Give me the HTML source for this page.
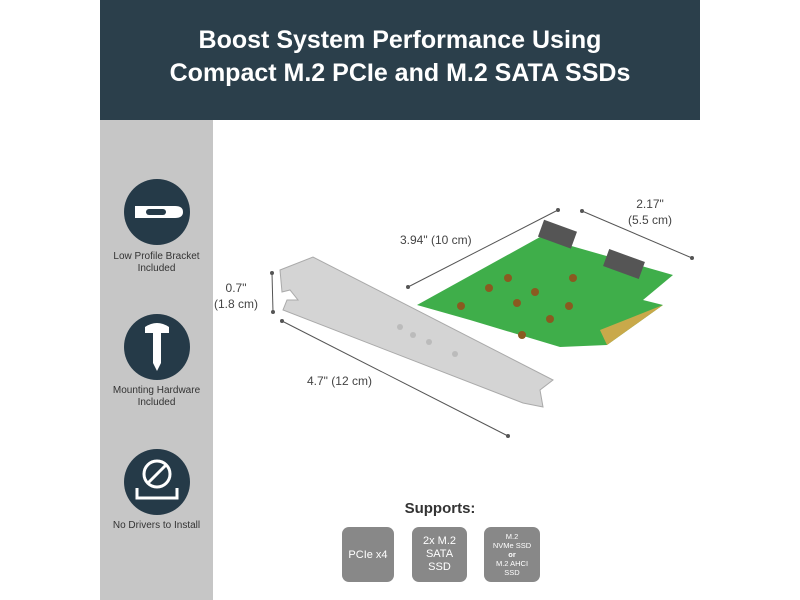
<!DOCTYPE html>
<html><head><style>
body{margin:0;width:800px;height:600px;background:#fff;position:relative;overflow:hidden;font-family:"Liberation Sans",sans-serif}
.hdr{position:absolute;left:100px;top:0;width:600px;height:120px;background:#2b3f4b;color:#fff;text-align:center;font-weight:bold;font-size:25px;line-height:33px;padding-top:24px;box-sizing:border-box}
.side{position:absolute;left:100px;top:120px;width:113px;height:480px;background:#c6c6c6}
.circ{position:absolute;left:124px;width:66px;height:66px;border-radius:50%;background:#253a48}
.lbl{position:absolute;left:100px;width:113px;text-align:center;font-size:10px;color:#333;line-height:12px}
.box{position:absolute;top:527px;height:55px;background:#888;border-radius:7px;color:#fff;text-align:center;display:flex;align-items:center;justify-content:center}
.dim{position:absolute;font-size:12px;color:#444;text-align:center;line-height:16px}
</style></head><body>
<div class="hdr">Boost System Performance Using<br>Compact M.2 PCIe and M.2 SATA SSDs</div>
<div class="side"></div>
<div class="circ" style="top:179px"></div>
<div class="circ" style="top:314px"></div>
<div class="circ" style="top:449px"></div>
<svg style="position:absolute;left:0;top:0" width="800" height="600">
<path d="M135 206 h40 q8 0 8 6 q0 6 -8 6 h-40 z" fill="#fff"/>
<rect x="146" y="209" width="20" height="6" rx="3" fill="#253a48"/>
<path d="M145 327 q12 -8 24 0 v6 h-8 v30 l-4 8 l-4 -8 v-30 h-8 z" fill="#fff"/>
<circle cx="157" cy="474" r="13" fill="none" stroke="#fff" stroke-width="3"/>
<line x1="148" y1="483" x2="166" y2="465" stroke="#fff" stroke-width="3"/>
<path d="M137 488 v10 h40 v-10" fill="none" stroke="#fff" stroke-width="3"/>
<polygon points="417,305 540,237 673,275 643,300 663,305 607,345 560,347 470,320" fill="#3fae4a"/>
<polygon points="600,330 663,305 607,345" fill="#c9a94a"/>
<rect x="540" y="225" width="35" height="18" fill="#555" transform="rotate(20 557 234)"/>
<rect x="605" y="255" width="38" height="18" fill="#555" transform="rotate(20 624 264)"/>
<g fill="#8a5a20"><circle cx="508" cy="278" r="4"/><circle cx="489" cy="288" r="4"/><circle cx="461" cy="306" r="4"/><circle cx="535" cy="292" r="4"/><circle cx="517" cy="303" r="4"/><circle cx="569" cy="306" r="4"/><circle cx="550" cy="319" r="4"/><circle cx="522" cy="335" r="4"/><circle cx="573" cy="278" r="4"/></g>
<polygon points="280,270 313,257 553,380 540,390 543,407 523,403 283,310 287,300 298,300 290,290 282,292" fill="#d4d4d4" stroke="#aaa"/>
<g fill="#bbb"><circle cx="400" cy="327" r="3"/><circle cx="413" cy="335" r="3"/><circle cx="429" cy="342" r="3"/><circle cx="455" cy="354" r="3"/></g>
<g stroke="#555" stroke-width="1"><line x1="408" y1="287" x2="558" y2="210"/><line x1="582" y1="211" x2="692" y2="258"/><line x1="272" y1="273" x2="273" y2="312"/><line x1="282" y1="321" x2="508" y2="436"/></g>
<g fill="#555"><circle cx="408" cy="287" r="2"/><circle cx="558" cy="210" r="2"/><circle cx="582" cy="211" r="2"/><circle cx="692" cy="258" r="2"/><circle cx="272" cy="273" r="2"/><circle cx="273" cy="312" r="2"/><circle cx="282" cy="321" r="2"/><circle cx="508" cy="436" r="2"/></g>
</svg>
<div class="lbl" style="top:251px">Low Profile Bracket<br>Included</div>
<div class="lbl" style="top:385px">Mounting Hardware<br>Included</div>
<div class="lbl" style="top:520px">No Drivers to Install</div>
<div class="dim" style="left:400px;top:232px">3.94" (10 cm)</div>
<div class="dim" style="left:628px;top:196px">2.17"<br>(5.5 cm)</div>
<div class="dim" style="left:214px;top:280px">0.7"<br>(1.8 cm)</div>
<div class="dim" style="left:307px;top:373px">4.7" (12 cm)</div>
<div style="position:absolute;left:330px;top:500px;width:220px;text-align:center;font-weight:bold;font-size:15px;color:#333">Supports:</div>
<div class="box" style="left:342px;width:52px;font-size:11px"><div>PCIe x4</div></div>
<div class="box" style="left:412px;width:55px;font-size:11px;line-height:13px"><div>2x M.2<br>SATA<br>SSD</div></div>
<div class="box" style="left:484px;width:56px;font-size:7.5px;line-height:9px"><div>M.2<br>NVMe SSD<br><b>or</b><br>M.2 AHCI<br>SSD</div></div>
</body></html>
